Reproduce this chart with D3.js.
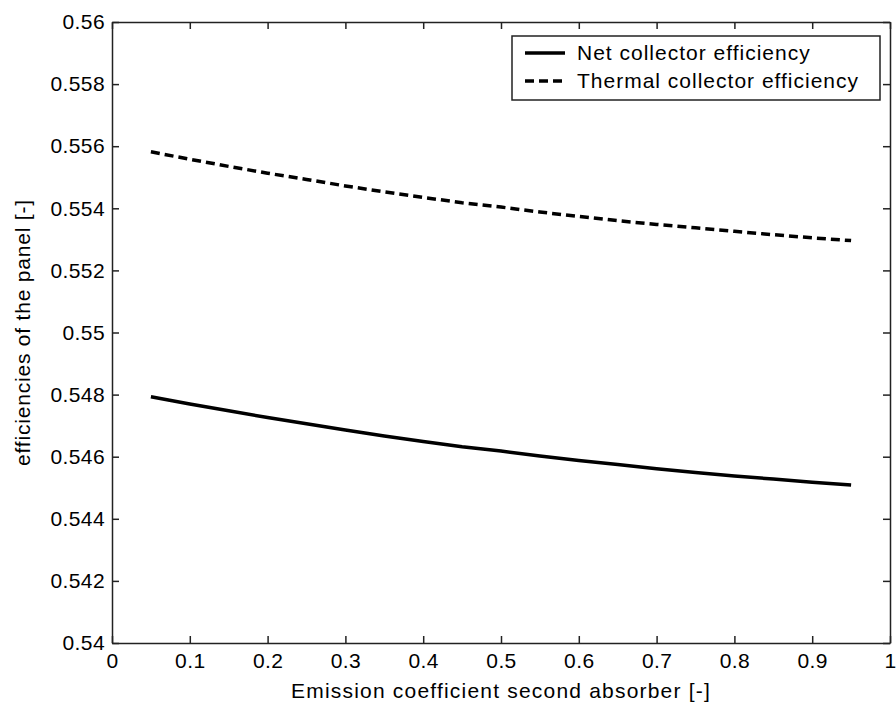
<!DOCTYPE html>
<html>
<head>
<meta charset="utf-8">
<script src="https://cdn.jsdelivr.net/npm/d3@7"></script>
<style>
  body { margin: 0; background: #fff; }
  svg text { font-family: "Liberation Sans", Arial, sans-serif; }
</style>
</head>
<body>
<div id="chart"></div>
<script>
// emission coefficient of the second absorber
var emission = [0.05, 0.1, 0.15, 0.2, 0.25, 0.3, 0.35, 0.4, 0.45, 0.5,
                0.55, 0.6, 0.65, 0.7, 0.75, 0.8, 0.85, 0.9, 0.95];
var netEff = [0.54793, 0.54770, 0.54748, 0.54726, 0.54706, 0.54686, 0.54667, 0.54649, 0.54632, 0.54618,
              0.54602, 0.54588, 0.54575, 0.54561, 0.54549, 0.54538, 0.54528, 0.54518, 0.54509];
var thermalEff = [0.55582, 0.55558, 0.55535, 0.55513, 0.55493, 0.55472, 0.55453, 0.55435, 0.55418, 0.55404,
                  0.55388, 0.55374, 0.55360, 0.55348, 0.55337, 0.55326, 0.55315, 0.55305, 0.55296];
var xTicks = [0, 0.1, 0.2, 0.3, 0.4, 0.5, 0.6, 0.7, 0.8, 0.9, 1];
var yTicks = [0.54, 0.542, 0.544, 0.546, 0.548, 0.55, 0.552, 0.554, 0.556, 0.558, 0.56];
var seriesNames = ['Net collector efficiency', 'Thermal collector efficiency'];

var width = 896, height = 706;
var margin = { left: 112, right: 6, top: 22, bottom: 63 };
var w = width - margin.left - margin.right;
var h = height - margin.top - margin.bottom;
var fontSize = 21;

var svg = d3.select('#chart').append('svg')
    .attr('width', width)
    .attr('height', height);

var g = svg.append('g')
    .attr('transform', 'translate(' + margin.left + ',' + margin.top + ')');

var x = d3.scaleLinear().domain([0, 1]).range([0, w]);
var y = d3.scaleLinear().domain([0.54, 0.56]).range([h, 0]);

var fmt = function (d) { return String(+d.toFixed(3)); };

// axes, ticks pointing inwards like matlab
var tick = 7;
var xAxis = d3.axisBottom(x).tickValues(xTicks).tickFormat(fmt)
    .tickSizeInner(-tick).tickSizeOuter(0).tickPadding(10);
var yAxis = d3.axisLeft(y).tickValues(yTicks).tickFormat(fmt)
    .tickSizeInner(-tick).tickSizeOuter(0).tickPadding(7);
var xTop = d3.axisTop(x).tickValues(xTicks).tickFormat('')
    .tickSizeInner(-tick).tickSizeOuter(0);
var yRight = d3.axisRight(y).tickValues(yTicks).tickFormat('')
    .tickSizeInner(-tick).tickSizeOuter(0);

g.append('g').attr('class', 'axis')
    .attr('transform', 'translate(0,' + h + ')').call(xAxis);
g.append('g').attr('class', 'axis').call(yAxis);
g.append('g').attr('class', 'axis').call(xTop);
g.append('g').attr('class', 'axis')
    .attr('transform', 'translate(' + w + ',0)').call(yRight);

g.selectAll('.axis path, .axis line')
    .attr('stroke', '#222')
    .attr('stroke-width', 1.5);
g.selectAll('.axis text')
    .attr('font-size', fontSize)
    .attr('letter-spacing', 0.4)
    .attr('fill', '#000');

// data lines
var line = d3.line()
    .x(function (d, i) { return x(emission[i]); })
    .y(function (d) { return y(d); });

g.append('path').attr('d', line(netEff))
    .attr('fill', 'none')
    .attr('stroke', '#000')
    .attr('stroke-width', 3.5);

g.append('path').attr('d', line(thermalEff))
    .attr('fill', 'none')
    .attr('stroke', '#000')
    .attr('stroke-width', 3.5)
    .attr('stroke-dasharray', '9,5');

// axis titles
svg.append('text')
    .attr('x', margin.left + w / 2)
    .attr('y', 698)
    .attr('text-anchor', 'middle')
    .attr('font-size', fontSize)
    .attr('letter-spacing', 1.2)
    .text('Emission coefficient second absorber [-]');

svg.append('text')
    .attr('transform', 'translate(30,' + (margin.top + h / 2) + ') rotate(-90)')
    .attr('text-anchor', 'middle')
    .attr('font-size', fontSize)
    .attr('letter-spacing', 0.8)
    .text('efficiencies of the panel [-]');

// legend
var lx = 512 - margin.left, ly = 36 - margin.top;
var legend = g.append('g').attr('transform', 'translate(' + lx + ',' + ly + ')');
legend.append('rect')
    .attr('width', 368).attr('height', 64)
    .attr('fill', '#fff')
    .attr('stroke', '#222')
    .attr('stroke-width', 1.5);

seriesNames.forEach(function (name, i) {
    var yy = 17 + i * 28;
    legend.append('line')
        .attr('x1', 13).attr('x2', 53)
        .attr('y1', yy).attr('y2', yy)
        .attr('stroke', '#000')
        .attr('stroke-width', 3.5)
        .attr('stroke-dasharray', i === 1 ? '9,5' : null);
    legend.append('text')
        .attr('x', 65).attr('y', yy)
        .attr('dy', '0.35em')
        .attr('font-size', fontSize)
        .attr('letter-spacing', 1)
        .text(name);
});
</script>
</body>
</html>
